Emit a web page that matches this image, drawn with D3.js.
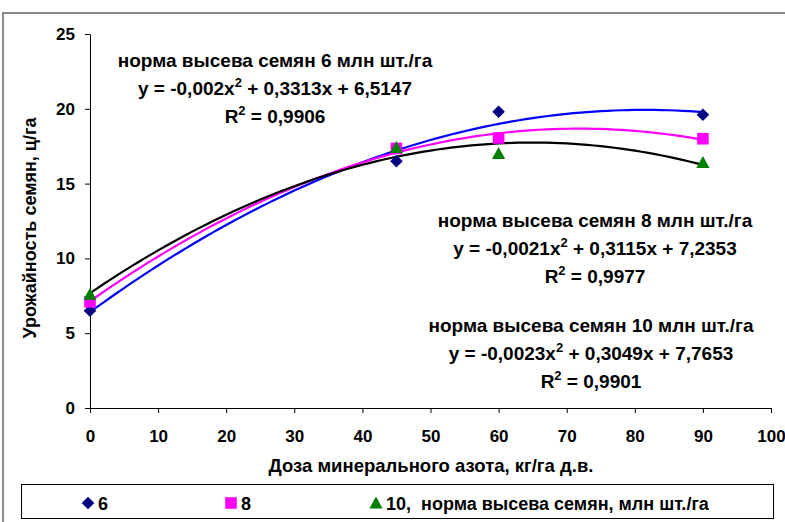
<!DOCTYPE html>
<html>
<head>
<meta charset="utf-8">
<script src="https://cdn.jsdelivr.net/npm/d3@7"></script>
<style>
  body { margin: 0; background: #fff; }
  text { font-family: "Liberation Sans", Arial, sans-serif; font-weight: bold; }
</style>
</head>
<body>
<svg id="chart" width="785" height="522"></svg>
<script>
// data
var doses = [0, 45, 60, 90];
var yield6 = [6.5, 16.5, 19.8, 19.6];
var yield8 = [7.1, 17.35, 18.05, 18.0];
var yield10 = [7.6, 17.4, 17.0, 16.4];

// trend equations as printed on the chart
var rates = ["6", "8", "10"];
var eqLeft = ["y = -0,002x", "y = -0,0021x", "y = -0,0023x"];
var eqRight = [" + 0,3313x + 6,5147", " + 0,3115x + 7,2353", " + 0,3049x + 7,7653"];
var r2 = ["0,9906", "0,9977", "0,9901"];

var xTicks = [0, 10, 20, 30, 40, 50, 60, 70, 80, 90, 100];
var yTicks = [0, 5, 10, 15, 20, 25];

var svg = d3.select("#chart");

// outer frame
svg.append("rect")
    .attr("x", 3).attr("y", 13)
    .attr("width", 820).attr("height", 540)
    .attr("fill", "none").attr("stroke", "#666").attr("stroke-width", 1.5);

var x = d3.scaleLinear().domain([0, 100]).range([90, 771]);
var y = d3.scaleLinear().domain([0, 25]).range([408, 34]);

var g = svg.append("g");

g.append("g")
    .attr("class", "x axis")
    .attr("transform", "translate(0,408)")
    .call(d3.axisBottom(x).tickValues(xTicks).tickSize(5).tickPadding(17).tickSizeOuter(0));

g.append("g")
    .attr("class", "y axis")
    .attr("transform", "translate(90,0)")
    .call(d3.axisLeft(y).tickValues(yTicks).tickSize(5).tickPadding(10).tickSizeOuter(0));

g.selectAll(".axis path, .axis line").attr("stroke", "#000");
g.selectAll(".axis text").attr("font-size", "17px").attr("fill", "#000");

// axis titles
svg.append("text")
    .attr("x", 431).attr("y", 472)
    .attr("text-anchor", "middle")
    .attr("font-size", "18.5px")
    .text("Доза минерального азота, кг/га д.в.");

svg.append("text")
    .attr("transform", "translate(36,228) rotate(-90)")
    .attr("text-anchor", "middle")
    .attr("font-size", "18px")
    .text("Урожайность семян, ц/га");

// marker shapes
var diamond = {draw: function (ctx, r) {
    ctx.moveTo(0, -r); ctx.lineTo(r, 0); ctx.lineTo(0, r); ctx.lineTo(-r, 0); ctx.closePath();
}};
var square = {draw: function (ctx, r) {
    ctx.rect(-r, -r, 2 * r, 2 * r);
}};
var triangle = {draw: function (ctx, r) {
    ctx.moveTo(0, -r * 1.1); ctx.lineTo(r * 1.1, r * 0.9); ctx.lineTo(-r * 1.1, r * 0.9); ctx.closePath();
}};

var series = [
    {data: yield6, line: "#0000ff", mark: "#000080", shape: diamond, r: 6.3},
    {data: yield8, line: "#ff00ff", mark: "#ff00ff", shape: square, r: 5.8},
    {data: yield10, line: "#000000", mark: "#008000", shape: triangle, r: 6}
];

// least squares quadratic, like the spreadsheet trend line
function polyfit(xs, ys) {
    var s = [0, 0, 0, 0, 0], t = [0, 0, 0];
    xs.forEach(function (xv, i) {
        for (var k = 0; k < 5; k++) s[k] += Math.pow(xv, k);
        for (var j = 0; j < 3; j++) t[j] += ys[i] * Math.pow(xv, j);
    });
    var m = [[s[0], s[1], s[2], t[0]], [s[1], s[2], s[3], t[1]], [s[2], s[3], s[4], t[2]]];
    for (var c = 0; c < 3; c++) {
        for (var r = c + 1; r < 3; r++) {
            var f = m[r][c] / m[c][c];
            for (var q = c; q < 4; q++) m[r][q] -= f * m[c][q];
        }
    }
    var coef = [0, 0, 0];
    for (var i = 2; i >= 0; i--) {
        var v = m[i][3];
        for (var j2 = i + 1; j2 < 3; j2++) v -= m[i][j2] * coef[j2];
        coef[i] = v / m[i][i];
    }
    return coef; // c, b, a
}

var valueline = d3.line()
    .x(function (d) { return x(d[0]); })
    .y(function (d) { return y(d[1]); });

series.forEach(function (s) {
    var k = polyfit(doses, s.data);
    var pts = d3.range(0, 90.5, 1).map(function (v) {
        return [v, k[0] + k[1] * v + k[2] * v * v];
    });
    g.append("path")
        .attr("d", valueline(pts))
        .attr("fill", "none")
        .attr("stroke", s.line)
        .attr("stroke-width", 2.2);
});

series.forEach(function (s) {
    g.selectAll(null)
        .data(s.data)
        .enter().append("path")
        .attr("transform", function (d, i) { return "translate(" + x(doses[i]) + "," + y(d) + ")"; })
        .attr("d", d3.symbol().type(s.shape).size(s.r))
        .attr("fill", s.mark);
});

// equation labels
var labelPos = [[275, 67], [595, 227], [591, 332]];

labelPos.forEach(function (p, i) {
    svg.append("text")
        .attr("x", p[0]).attr("y", p[1])
        .attr("text-anchor", "middle").attr("font-size", "19px")
        .text("норма высева семян " + rates[i] + " млн шт./га");

    var eq = svg.append("text").attr("text-anchor", "middle").attr("font-size", "19px")
        .attr("x", p[0]).attr("y", p[1] + 28);
    eq.append("tspan").text(eqLeft[i]);
    eq.append("tspan").attr("dy", -8).attr("font-size", "13px").text("2");
    eq.append("tspan").attr("dy", 8).text(eqRight[i]);

    var r = svg.append("text").attr("text-anchor", "middle").attr("font-size", "19px")
        .attr("x", p[0]).attr("y", p[1] + 56);
    r.append("tspan").text("R");
    r.append("tspan").attr("dy", -8).attr("font-size", "13px").text("2");
    r.append("tspan").attr("dy", 8).text(" = " + r2[i]);
});

// legend
var legend = svg.append("g");
legend.append("rect")
    .attr("x", 21.5).attr("y", 484.5)
    .attr("width", 752).attr("height", 34)
    .attr("fill", "#fff").attr("stroke", "#000");

var legendX = [88, 231, 376];
var legendText = ["6", "8", "10,  норма высева семян, млн шт./га"];

legendX.forEach(function (lx, i) {
    legend.append("path")
        .attr("transform", "translate(" + lx + ",503)")
        .attr("d", d3.symbol().type(series[i].shape).size(series[i].r))
        .attr("fill", series[i].mark);
    legend.append("text")
        .attr("x", lx + 10).attr("y", 510)
        .attr("font-size", "18px")
        .style("white-space", "pre")
        .text(legendText[i]);
});
</script>
</body>
</html>
